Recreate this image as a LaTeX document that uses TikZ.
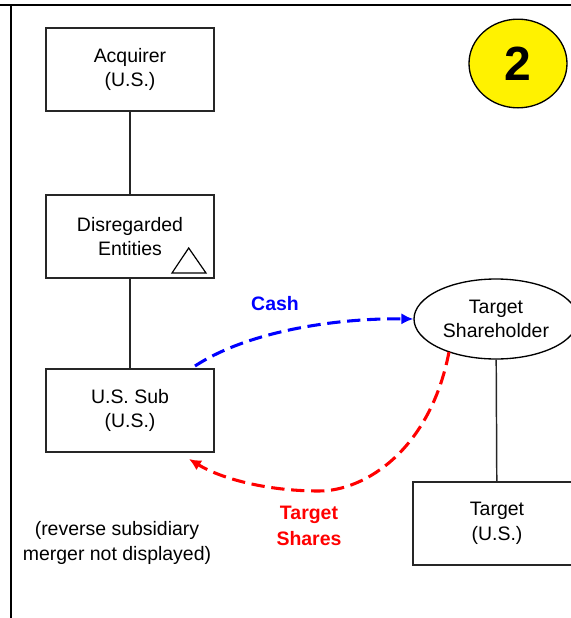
\documentclass[tikz,border=0pt]{standalone}
\usepackage{fontspec}
\setmainfont{Liberation Sans}
\usetikzlibrary{arrows.meta,shapes.geometric}
\begin{document}
\begin{tikzpicture}[x=0.75pt,y=-0.75pt,
  txt/.style={font=\fontsize{14.6}{18.4}\selectfont,align=center,inner sep=0pt},
  box/.style={txt,draw=black!85,line width=1.1pt,minimum width=126pt,minimum height=62.25pt,anchor=center},
  link/.style={draw=black!85,line width=1.1pt},
  flow/.style={line width=2.3pt,dash pattern=on 10pt off 5pt,-{Latex[length=9pt,width=8.5pt]}}]
\useasboundingbox (0,0) rectangle (571,618);
\clip (0,0) rectangle (571,618);
\draw[line width=2pt] (0,5) -- (571,5);
\draw[line width=2pt] (11,5) -- (11,618);
\node[box] (acq) at (130,69.5) {Acquirer\\(U.S.)};
\node[box] (dis) at (130,236.5) {Disregarded\\Entities};
\node[box] (sub) at (130,410.5) {U.S. Sub\\(U.S.)};
\node[box] (tgt) at (497,523.5) {Target\\(U.S.)};
\node[txt,draw=black,line width=1pt,ellipse,minimum width=123pt,minimum height=60pt] (sh) at (496,319) {Target\\Shareholder};
\node[draw=black,line width=1pt,fill=yellow,ellipse,minimum width=73.5pt,minimum height=66.5pt,inner sep=0pt,font=\fontsize{36}{36}\selectfont\bfseries] (two) at (518,63.5) {2};
\draw[link] (acq) -- (dis);
\draw[link] (dis) -- (sub);
\draw[link] (sh) -- (tgt);
\coordinate (t1) at (188.7,248);
\coordinate (t2) at (172,273);
\coordinate (t3) at (206,273);
\draw[line width=0.9pt,line join=miter] (t1) -- (t2) -- (t3) -- cycle;
\coordinate (bs) at (195,366);
\coordinate (rs) at (449,352);
\coordinate (rm) at (319,491);
\coordinate (re) at (189,459);
\draw[flow,blue] (bs) .. controls (250,330) and (340,318) .. (sh.west);
\draw[flow,red] (rs) .. controls (430,450) and (365,491) .. (rm) .. controls (265,491) and (220,478) .. (re);
\node[txt,font=\fontsize{14.6}{18.4}\selectfont\bfseries,text=blue] (cash) at (275,304) {Cash};
\node[txt,font=\fontsize{14.6}{19.5}\selectfont\bfseries,text=red] (shares) at (309,526) {Target\\Shares};
\node[txt] (note) at (117,543) {(reverse subsidiary\\merger not displayed)};
\end{tikzpicture}
\end{document}
